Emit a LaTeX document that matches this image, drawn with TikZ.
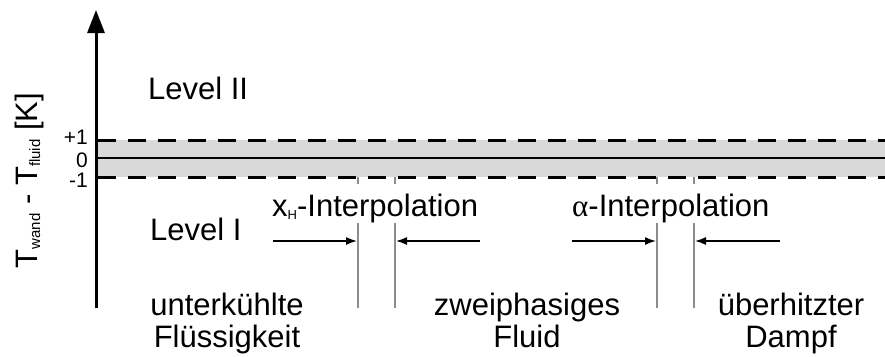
\documentclass[tikz,border=0pt]{standalone}
\usepackage{fontspec}
\setmainfont{Liberation Sans}
\newfontfamily\greekserif{Liberation Serif}
\usetikzlibrary{arrows.meta}
\begin{document}
\begin{tikzpicture}[x=1pt,y=-1pt,
  big/.style={font=\fontsize{31}{32}\selectfont, inner sep=0pt},
  twoline/.style={big, align=center, anchor=base},
  num/.style={font=\fontsize{21}{24}\selectfont, inner sep=0pt, anchor=east},
  guide/.style={draw=black!45, line width=1.2pt},
  pointer/.style={draw=black, line width=1.5pt, -{Latex[length=11pt,width=8pt]}},
  bandline/.style={line width=3pt, dash pattern=on 18pt off 12pt, dash phase=-2pt},
  axisline/.style={line width=3pt, -{Triangle[length=23pt,width=17pt]}},
]
\useasboundingbox (0,0) rectangle (885,356);
% band
\fill[black!15] (96,140) rectangle (885,177);
\coordinate (upL) at (96,140); \coordinate (upR) at (885,140);
\coordinate (loL) at (96,177); \coordinate (loR) at (885,177);
\coordinate (zeL) at (96,158); \coordinate (zeR) at (885,158);
\draw[bandline] (upL) -- (upR);
\draw[bandline] (loL) -- (loR);
\draw[line width=2.5pt] (zeL) -- (zeR);
% axis
\coordinate (ax0) at (96,308);
\coordinate (ax1) at (96,10);
\draw[axisline] (ax0) -- (ax1);
% guide lines
\foreach \gx/\gn in {358/a,395/b,657/c,694/d}{
  \coordinate (g\gn1) at (\gx,177);
  \coordinate (g\gn2) at (\gx,184);
  \coordinate (g\gn3) at (\gx,223);
  \coordinate (g\gn4) at (\gx,308);
  \draw[guide] (g\gn1) -- (g\gn2);
  \draw[guide] (g\gn3) -- (g\gn4);
}
% pointers
\coordinate (p1s) at (273,241); \coordinate (p1e) at (357,241);
\coordinate (p2s) at (480,241); \coordinate (p2e) at (396,241);
\coordinate (p3s) at (572,241); \coordinate (p3e) at (656,241);
\coordinate (p4s) at (780,241); \coordinate (p4e) at (695,241);
\draw[pointer] (p1s) -- (p1e);
\draw[pointer] (p2s) -- (p2e);
\draw[pointer] (p3s) -- (p3e);
\draw[pointer] (p4s) -- (p4e);
% tick labels
\node[num] (tp) at (88,137) {+1};
\node[num] (t0) at (88,160) {0};
\node[num] (tm) at (88,180) {-1};
% axis label
\node[big, rotate=90, anchor=base] (ylab) at (37,180.5)
  {T\raisebox{-3pt}{\fontsize{15}{15}\selectfont wand} - T\raisebox{-3pt}{\fontsize{15}{15}\selectfont fluid} [K]};
% levels
\node[big, anchor=base west] (lv2) at (148,99) {Level II};
\node[big, anchor=base west] (lv1) at (150,240) {Level I};
% interpolation labels
\node[big, anchor=base west] (xh) at (272,216) {x\raisebox{-3pt}{\fontsize{13}{13}\selectfont H}-Interpolation};
\node[big, anchor=base west] (al) at (572,216) {{\greekserif α}-Interpolation};
% regions
\node[twoline] (r1) at (227,347) {unterkühlte\\Flüssigkeit};
\node[twoline] (r2) at (527,347) {zweiphasiges\\Fluid};
\node[twoline] (r3) at (791,347) {überhitzter\\Dampf};
\end{tikzpicture}
\end{document}
